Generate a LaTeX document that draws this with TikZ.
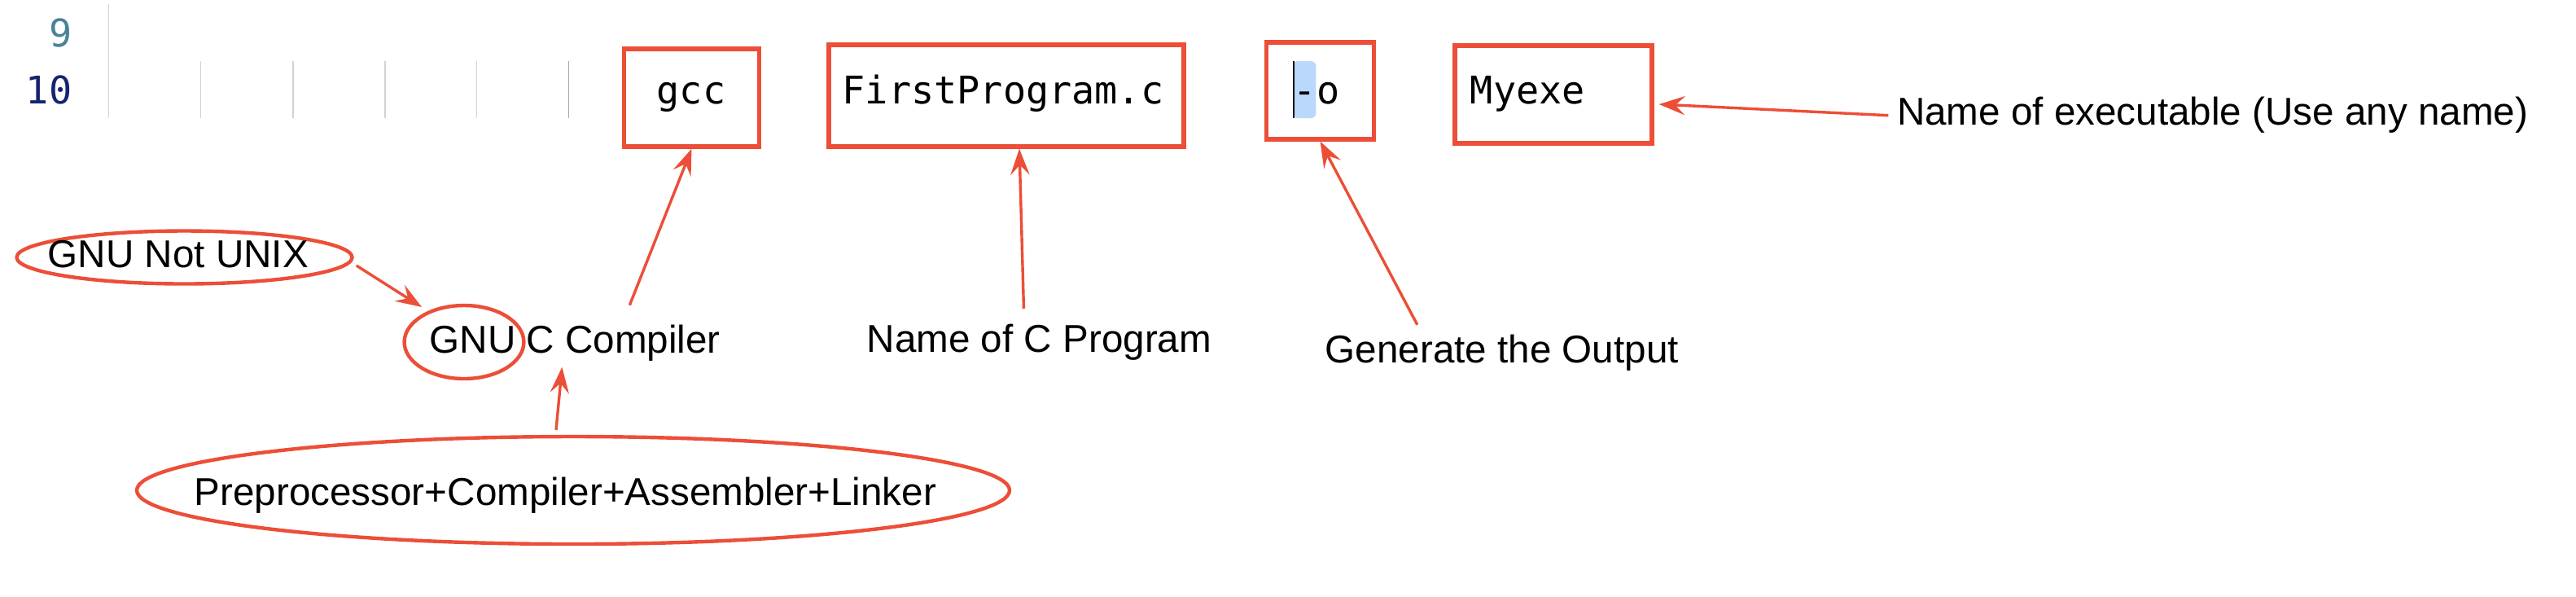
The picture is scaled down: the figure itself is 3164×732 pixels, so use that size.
\documentclass[tikz,border=0pt]{standalone}
\usepackage{fontspec}
\usetikzlibrary{arrows.meta,shapes.geometric}
\newfontfamily\codefont{DejaVu Sans Mono}
\newfontfamily\labelfont{Liberation Sans}
\definecolor{notered}{RGB}{236,78,55}
\definecolor{lineno}{RGB}{74,130,153}
\definecolor{linecur}{RGB}{22,36,112}
\definecolor{sel}{RGB}{185,216,251}

\begin{document}
\begin{tikzpicture}[x=0.25pt,y=-0.25pt,
    code/.style={inner sep=0pt,font=\codefont\fontsize{11.7}{14}\selectfont},
    lbl/.style={inner sep=0pt,font=\labelfont\fontsize{11.9}{14}\selectfont},
    codebox/.style={draw=notered,line width=1.3pt,inner sep=0pt},
    ring/.style={ellipse,draw=notered,line width=1.1pt,inner sep=0pt},
    pointer/.style={draw=notered,line width=0.85pt,-{Stealth[length=8pt,width=5.8pt,inset=3pt]}},
    guide/.style={gray!35,line width=0.35pt}]
  \useasboundingbox (0,0) rectangle (3164,732);

  \draw[guide] (133.5,5) -- (133.5,145);
  \foreach \gx in {246.7,359.9,473.1,585.4} \draw[guide] (\gx,75) -- (\gx,145);
  \draw[guide,gray!70] (698.6,75) -- (698.6,145);

  \node[code,text=lineno,anchor=base east] (n9) at (89,57) {9};
  \node[code,text=linecur,anchor=base east] (n10) at (89,127) {10};

  \node[codebox,minimum width=41.5pt,minimum height=30pt] (gccbox) at (849.5,120) {};
  \node[codebox,minimum width=109pt,minimum height=31.25pt] (firstbox) at (1236,117.5) {};
  \node[codebox,minimum width=32.9pt,minimum height=29.75pt] (obox) at (1621.5,111.5) {};
  \node[codebox,minimum width=60.5pt,minimum height=30pt] (myexebox) at (1908,116) {};

  \fill[sel,rounded corners=1.5pt] (1588,75) rectangle (1616.3,145);
  \draw[line width=0.6pt] (1589,75) -- (1589,145);

  \node[code,anchor=base] (gcc) at (849,127) {gcc};
  \node[code,anchor=base] (first) at (1232,127) {FirstProgram.c};
  \node[code,anchor=base west] (oflag) at (1588,127) {-o};
  \node[code,anchor=base west] (myexe) at (1805,127) {Myexe};

  \node[ring,minimum width=103pt,minimum height=16.25pt] (notunixring) at (226.5,316) {};
  \node[lbl,anchor=base west] (notunix) at (58,328) {GNU Not UNIX};
  \node[ring,minimum width=36.7pt,minimum height=22.5pt] (gnuring) at (570,420) {};
  \node[lbl,anchor=base west] (gnucc) at (527,433) {GNU C Compiler};
  \node[ring,minimum width=268pt,minimum height=33pt] (preprocring) at (704,602) {};
  \node[lbl,anchor=base west] (preproc) at (238,620) {Preprocessor+Compiler+Assembler+Linker};
  \node[lbl,anchor=base west] (cprog) at (1064,432) {Name of C Program};
  \node[lbl,anchor=base west] (genout) at (1627,445) {Generate the Output};
  \node[lbl,anchor=base west] (execname) at (2329.3,153) {Name of executable (Use any name)};

  \draw[pointer] ([shift={(3,10)}]notunixring.east) -- ([shift={(-52,-43)}]gnuring.center);
  \draw[pointer] ([shift={(67,-23)}]gnucc.north) -- (gccbox.south);
  \draw[pointer] ([shift={(-21,-6)}]preprocring.north) -- ([shift={(-16,7)}]gnucc.south);
  \draw[pointer] ([shift={(-19,-18)}]cprog.north) -- ([shift={(16,0)}]firstbox.south);
  \draw[pointer] ([shift={(-104,-11)}]genout.north) -- (obox.south);
  \draw[pointer] ([shift={(-10,1)}]execname.west) -- ([shift={(6,12)}]myexebox.east);
\end{tikzpicture}
\end{document}
